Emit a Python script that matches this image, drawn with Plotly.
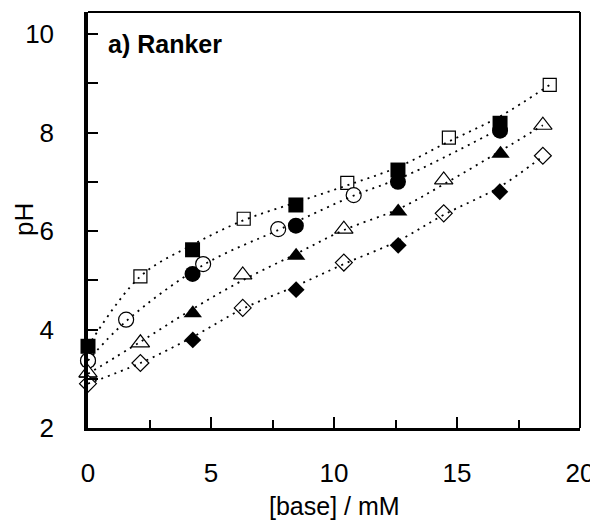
import plotly.graph_objects as go

# ---- data ----
sq_f_x = [0, 4.25, 8.45, 12.6, 16.75]
sq_f_y = [3.66, 5.62, 6.53, 7.24, 8.19]
sq_o_x = [2.13, 6.33, 10.54, 14.67, 18.77]
sq_o_y = [5.08, 6.25, 6.98, 7.90, 8.97]

ci_f_x = [0, 4.25, 8.45, 12.6, 16.75]
ci_f_y = [3.37, 5.13, 6.11, 7.00, 8.04]
ci_o_x = [0, 1.55, 4.68, 7.73, 10.8]
ci_o_y = [3.37, 4.20, 5.33, 6.04, 6.73]

tr_f_x = [0, 4.26, 8.46, 12.61, 16.77]
tr_f_y = [3.10, 4.33, 5.50, 6.40, 7.57]
tr_o_x = [0, 2.13, 6.29, 10.4, 14.46, 18.49]
tr_o_y = [3.12, 3.73, 5.11, 6.04, 7.04, 8.15]

di_f_x = [0, 4.26, 8.46, 12.61, 16.74]
di_f_y = [2.90, 3.79, 4.81, 5.71, 6.80]
di_o_x = [0, 2.13, 6.29, 10.4, 14.46, 18.49]
di_o_y = [2.90, 3.32, 4.44, 5.36, 6.36, 7.53]

# dotted fit curves
fit_sq_x = [0, 2.13, 4.25, 6.33, 8.45, 10.54, 12.6, 14.67, 16.75, 18.77]
fit_sq_y = [3.66, 5.08, 5.72, 6.22, 6.58, 6.93, 7.30, 7.82, 8.33, 8.97]
fit_ci_x = [0, 1.55, 4.68, 7.73, 8.9, 10.8, 12.9, 16.75]
fit_ci_y = [3.37, 4.17, 5.31, 6.02, 6.29, 6.72, 7.12, 8.08]
fit_tr_x = [0, 2.13, 4.26, 6.29, 8.43, 10.4, 12.63, 14.46, 16.74, 18.49]
fit_tr_y = [3.10, 3.75, 4.42, 5.00, 5.53, 6.02, 6.45, 6.95, 7.62, 8.15]
fit_di_x = [0, 2.13, 4.26, 6.29, 8.43, 10.4, 12.6, 14.46, 16.74, 18.49]
fit_di_y = [2.90, 3.32, 3.85, 4.42, 4.88, 5.33, 5.80, 6.33, 6.90, 7.52]

x_ticks = [0, 5, 10, 15, 20]
y_ticks = [2, 4, 6, 8, 10]

FONT = "Liberation Sans, Arial, sans-serif"

fig = go.Figure()

filled = [
    (sq_f_x, sq_f_y, "square", 15),
    (ci_f_x, ci_f_y, "circle", 16),
    (tr_f_x, tr_f_y, "triangle-up", 16),
    (di_f_x, di_f_y, "diamond", 13),
]
opened = [
    (sq_o_x, sq_o_y, "square", 13),
    (ci_o_x, ci_o_y, "circle", 15),
    (tr_o_x, tr_o_y, "triangle-up", 16),
    (di_o_x, di_o_y, "diamond", 13),
]
fits = [(fit_sq_x, fit_sq_y), (fit_ci_x, fit_ci_y),
        (fit_tr_x, fit_tr_y), (fit_di_x, fit_di_y)]

for xs, ys, sym, sz in filled:
    fig.add_trace(go.Scatter(x=xs, y=ys, mode="markers", cliponaxis=False,
                             marker=dict(symbol=sym, size=sz, color="black",
                                         line=dict(width=0)),
                             showlegend=False))
for xs, ys, sym, sz in opened:
    fig.add_trace(go.Scatter(x=xs, y=ys, mode="markers", cliponaxis=False,
                             marker=dict(symbol=sym, size=sz, color="white",
                                         line=dict(width=1.2, color="black")),
                             showlegend=False))

for fx, fy in fits:
    fig.add_trace(go.Scatter(x=fx, y=fy, mode="lines", cliponaxis=False,
                             line=dict(color="black", width=1.8, dash="2px,5px",
                                       shape="spline", smoothing=1.0),
                             hoverinfo="skip", showlegend=False))

# the page adds an 8 px body margin, so the figure is 590x520 and shifted
fig.update_layout(
    width=590, height=520,
    margin=dict(l=80, r=18, t=4, b=100),
    paper_bgcolor="white", plot_bgcolor="white",
    font=dict(family=FONT, size=26, color="black"),
    showlegend=False,
    xaxis=dict(range=[0, 20], tickvals=x_ticks, ticktext=[str(v) for v in x_ticks],
               ticks="inside", ticklen=11, tickwidth=2, tickcolor="black",
               minor=dict(dtick=2.5, tick0=0, ticks="inside", ticklen=8,
                          tickwidth=2, tickcolor="black"),
               showline=True, linewidth=3, linecolor="black", mirror=False,
               showgrid=False, zeroline=False, ticklabelstandoff=20,
               automargin=False, tickfont=dict(size=26)),
    yaxis=dict(range=[2, 10.45], tickvals=y_ticks, ticktext=[str(v) for v in y_ticks],
               ticks="inside", ticklen=10, tickwidth=2, tickcolor="black",
               minor=dict(dtick=1, tick0=0, ticks="inside", ticklen=10,
                          tickwidth=2, tickcolor="black"),
               showline=True, linewidth=3.5, linecolor="black", mirror=False,
               showgrid=False, zeroline=False, ticklabelstandoff=25,
               automargin=False, tickfont=dict(size=26)),
)

# top and right frame lines
fig.add_shape(type="line", xref="paper", yref="paper", x0=0, x1=1, y0=1, y1=1,
              line=dict(color="black", width=2))
fig.add_shape(type="line", xref="paper", yref="paper", x0=1, x1=1, y0=0, y1=1,
              line=dict(color="black", width=2))

fig.add_annotation(text="[base] / mM", xref="paper", yref="paper",
                   x=0.5, y=-0.187, xanchor="center", yanchor="middle",
                   showarrow=False, font=dict(size=25))
fig.add_annotation(text="pH", xref="paper", yref="paper",
                   x=-0.13, y=0.5, xanchor="center", yanchor="middle",
                   textangle=-90, showarrow=False, font=dict(size=26))
fig.add_annotation(text="<b>a) Ranker</b>", xref="paper", yref="paper",
                   x=0.037, y=0.923, xanchor="left", yanchor="middle",
                   showarrow=False, font=dict(size=25))

fig.write_html("out.html")
